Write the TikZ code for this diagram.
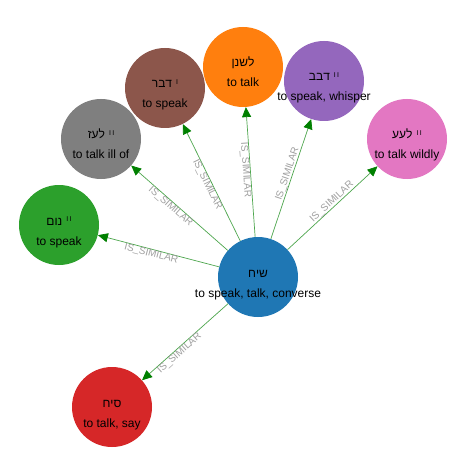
\documentclass[tikz,border=0pt]{standalone}
\usepackage{fontspec}
\setmainfont{Liberation Sans}
\usetikzlibrary{arrows.meta}
\definecolor{cblue}{HTML}{1F77B4}
\definecolor{corange}{HTML}{FF7F0E}
\definecolor{cgreen}{HTML}{2CA02C}
\definecolor{cred}{HTML}{D62728}
\definecolor{cpurple}{HTML}{9467BD}
\definecolor{cbrown}{HTML}{8C564B}
\definecolor{cpink}{HTML}{E377C2}
\definecolor{cgray}{HTML}{7F7F7F}
\definecolor{edgeline}{HTML}{4DA64D}
\definecolor{edgetip}{HTML}{008000}
\definecolor{elabel}{HTML}{A0A0A0}
\newcommand\homI{\hspace{4pt}\raisebox{3.4pt}{\fontsize{7}{7}\selectfont I}}
\newcommand\homII{\hspace{4pt}\raisebox{3.4pt}{\fontsize{7}{7}\selectfont I\kern1.3pt I}}
\tikzset{
  word/.style={circle, minimum size=80pt, inner sep=0pt, draw=none},
  heb/.style={anchor=base, inner sep=0pt, font=\fontsize{12}{12}\selectfont},
  eng/.style={anchor=base, inner sep=0pt, font=\fontsize{12}{12}\selectfont},
  sim/.style={draw=edgeline, line width=0.7pt, -{Triangle[length=10pt,width=9pt,color=edgetip]}},
  simlabel/.style={sloped, font=\fontsize{10}{10}\selectfont, text=elabel, inner sep=0pt},
}
\begin{document}
\begin{tikzpicture}[x=1pt,y=-1pt]
\fill[white] (0,0) rectangle (461,465);
\useasboundingbox (0,0) rectangle (461,465);
% circles
\node[word, fill=cblue]   (siach)   at (258,277) {};
\node[word, fill=cbrown]  (dabar)   at (165,88)  {};
\node[word, fill=corange] (lashnen) at (243,67)  {};
\node[word, fill=cpurple] (dabab)   at (324,81)  {};
\node[word, fill=cpink]   (laa)     at (407,139) {};
\node[word, fill=cgray]   (laaz)    at (101,139) {};
\node[word, fill=cgreen]  (num)     at (59,225)  {};
\node[word, fill=cred]    (sich)    at (112,407) {};
% edges
\draw[sim] (siach) -- (num)     node[simlabel, below, pos=0.55] {IS\_SIMILAR};
\draw[sim] (siach) -- (laaz)    node[simlabel, below, pos=0.56] {IS\_SIMILAR};
\draw[sim] (siach) -- (dabar)   node[simlabel, below, pos=0.5]  {IS\_SIMILAR};
\draw[sim] (siach) -- (lashnen) node[simlabel, below, pos=0.52] {IS\_SIMILAR};
\draw[sim] (siach) -- (dabab)   node[simlabel, above, pos=0.53] {IS\_SIMILAR};
\draw[sim] (siach) -- (laa)     node[simlabel, above, pos=0.53] {IS\_SIMILAR};
\draw[sim] (siach) -- (sich)    node[simlabel, below, pos=0.6]  {IS\_SIMILAR};
% texts
\node[heb] (siachH)   at (siach.center)   {שיח};
\node[eng] (siachE)   at ([yshift=-20pt]siach.center)   {to speak, talk, converse};
\node[heb] (dabarH)   at (dabar.center)   {דבר\homI};
\node[eng] (dabarE)   at ([yshift=-20pt]dabar.center)   {to speak};
\node[heb] (lashnenH) at (lashnen.center) {לשנן};
\node[eng] (lashnenE) at ([yshift=-20pt]lashnen.center) {to talk};
\node[heb] (dababH)   at (dabab.center)   {דבב\homII};
\node[eng] (dababE)   at ([yshift=-20pt]dabab.center)   {to speak, whisper};
\node[heb] (laaH)     at (laa.center)     {לעע\homII};
\node[eng] (laaE)     at ([yshift=-20pt]laa.center)     {to talk wildly};
\node[heb] (laazH)    at (laaz.center)    {לעז\homII};
\node[eng] (laazE)    at ([yshift=-20pt]laaz.center)    {to talk ill of};
\node[heb] (numH)     at (num.center)     {נום\homII};
\node[eng] (numE)     at ([yshift=-20pt]num.center)     {to speak};
\node[heb] (sichH)    at (sich.center)    {סיח};
\node[eng] (sichE)    at ([yshift=-20pt]sich.center)    {to talk, say};
\end{tikzpicture}
\end{document}
